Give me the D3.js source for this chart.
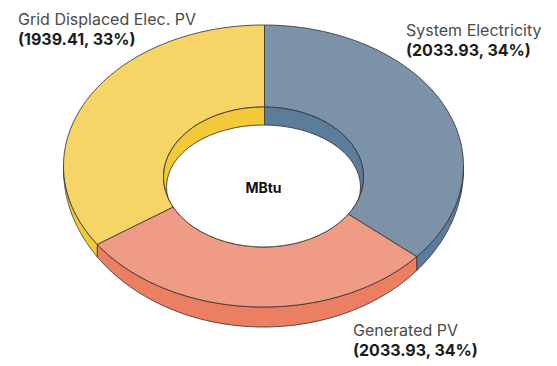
<!DOCTYPE html>
<html>
<head>
<meta charset="utf-8">
<script src="https://cdn.jsdelivr.net/npm/d3@7"></script>
<style>
  html, body { margin: 0; padding: 0; background: #ffffff; }
  svg { display: block; }
  text { font-family: Inter, "Open Sans", sans-serif; }
</style>
</head>
<body>
<script>
// ---- data ----
const categories = ["System Electricity", "Generated PV", "Grid Displaced Elec. PV"];
const values = [2033.93, 2033.93, 1939.41];
const percentLabels = ["34%", "34%", "33%"];
const unitLabel = "MBtu";
const topColors = ["#7b92a9", "#f09b86", "#f6d466"];
const sideColors = ["#5b7c9b", "#ec7e61", "#f3c93b"];

const W = 557, H = 366;
const svg = d3.select("body").append("svg").attr("width", W).attr("height", H);

// ---- projected geometry of the tilted ring ----
const PC = { x: 264.5, y: 162 };                       // centre the slice edges radiate from
const outerTop = { cx: 263.5, cy: 166, rx: 200, ry: 141 };
const outerBot = { cx: 263.5, cy: 169, rx: 200, ry: 158 };
const innerTop = { cx: 263.5, cy: 177, rx: 100, ry: 70 };
const innerBot = { cx: 263.5, cy: 187, rx: 97, ry: 62 };

const pie = d3.pie().sort(null).value(d => d)
  .startAngle(0).endAngle(2 * Math.PI);
const arcs = pie(values);

const color = d3.scaleOrdinal().domain(categories).range(topColors);
const sideColor = d3.scaleOrdinal().domain(categories).range(sideColors);

function dir(a) { return [Math.sin(a), -Math.cos(a)]; }
function rayHit(a, e) {
  const [dx, dy] = dir(a);
  const ox = (PC.x - e.cx) / e.rx, oy = (PC.y - e.cy) / e.ry;
  const ux = dx / e.rx, uy = dy / e.ry;
  const A = ux * ux + uy * uy, B = ox * ux + oy * uy, C = ox * ox + oy * oy - 1;
  const t = (-B + Math.sqrt(B * B - A * C)) / A;
  return [PC.x + t * dx, PC.y + t * dy];
}
function paramOf(p, e) {
  return Math.atan2((p[1] - e.cy) / e.ry, (p[0] - e.cx) / e.rx);
}
function ellPt(th, e) { return [e.cx + e.rx * Math.cos(th), e.cy + e.ry * Math.sin(th)]; }

const line = d3.line().curve(d3.curveLinear);
const N = 90;
const stroke = "#363636", sw = 0.85;

// ---- outer side walls (front half only) ----
const gSide = svg.append("g");
arcs.forEach((d, i) => {
  let t0 = paramOf(rayHit(d.startAngle, outerTop), outerTop);
  let t1 = paramOf(rayHit(d.endAngle, outerTop), outerTop);
  while (t1 <= t0) t1 += 2 * Math.PI;
  const a = Math.max(t0, 0), b = Math.min(t1, Math.PI);
  if (b <= a) return;
  const th = d3.range(N + 1).map(k => a + (b - a) * k / N);
  const pts = th.map(t => ellPt(t, outerTop)).concat(th.slice().reverse().map(t => ellPt(t, outerBot)));
  gSide.append("path").attr("d", line(pts) + "Z")
    .attr("fill", sideColor(categories[i])).attr("stroke", stroke).attr("stroke-width", sw)
    .attr("stroke-linejoin", "round");
});

// ---- top surfaces ----
const gTop = svg.append("g");
arcs.forEach((d, i) => {
  const as = d3.range(N + 1).map(k => d.startAngle + (d.endAngle - d.startAngle) * k / N);
  const pts = as.map(a => rayHit(a, outerTop)).concat(as.slice().reverse().map(a => rayHit(a, innerTop)));
  gTop.append("path").attr("d", line(pts) + "Z")
    .attr("fill", color(categories[i])).attr("stroke", stroke).attr("stroke-width", sw)
    .attr("stroke-linejoin", "round");
});

// ---- inner hole: far inner wall and the opening ----
const defs = svg.append("defs");
defs.append("clipPath").attr("id", "hole").append("ellipse")
  .attr("cx", innerTop.cx).attr("cy", innerTop.cy).attr("rx", innerTop.rx).attr("ry", innerTop.ry);
const gHole = svg.append("g").attr("clip-path", "url(#hole)");
arcs.forEach((d, i) => {
  const as = d3.range(N + 1).map(k => d.startAngle + (d.endAngle - d.startAngle) * k / N);
  const pts = [[PC.x, PC.y]].concat(as.map(a => { const [dx, dy] = dir(a); return [PC.x + 400 * dx, PC.y + 400 * dy]; }));
  gHole.append("path").attr("d", line(pts) + "Z")
    .attr("fill", sideColor(categories[i])).attr("stroke", stroke).attr("stroke-width", sw);
});
gHole.append("ellipse")
  .attr("cx", innerBot.cx).attr("cy", innerBot.cy).attr("rx", innerBot.rx).attr("ry", innerBot.ry)
  .attr("fill", "#ffffff").attr("stroke", stroke).attr("stroke-width", sw);
svg.append("ellipse")
  .attr("cx", innerTop.cx).attr("cy", innerTop.cy).attr("rx", innerTop.rx).attr("ry", innerTop.ry)
  .attr("fill", "none").attr("stroke", stroke).attr("stroke-width", sw);

// centre unit label
svg.append("text").attr("x", innerTop.cx).attr("y", 192.5)
  .attr("text-anchor", "middle").attr("font-size", 14).attr("font-weight", 700)
  .attr("fill", "#111").text(unitLabel);

// ---- slice labels ----
const labelPos = [
  { x: 406, y: 36 },   // System Electricity
  { x: 353, y: 336 },  // Generated PV
  { x: 18, y: 25 }     // Grid Displaced Elec. PV
];
const fmt = d3.format(".2f");
arcs.forEach((d, i) => {
  const p = labelPos[i];
  const t = svg.append("text").attr("x", p.x).attr("y", p.y).attr("font-size", 16);
  t.append("tspan").attr("x", p.x).attr("fill", "#4a4a4a").attr("font-weight", 400).text(categories[i]);
  t.append("tspan").attr("x", p.x).attr("dy", 19.5).attr("fill", "#1c1c1c").attr("font-weight", 700)
    .text("(" + fmt(values[i]) + ", " + percentLabels[i] + ")");
});
</script>
</body>
</html>
